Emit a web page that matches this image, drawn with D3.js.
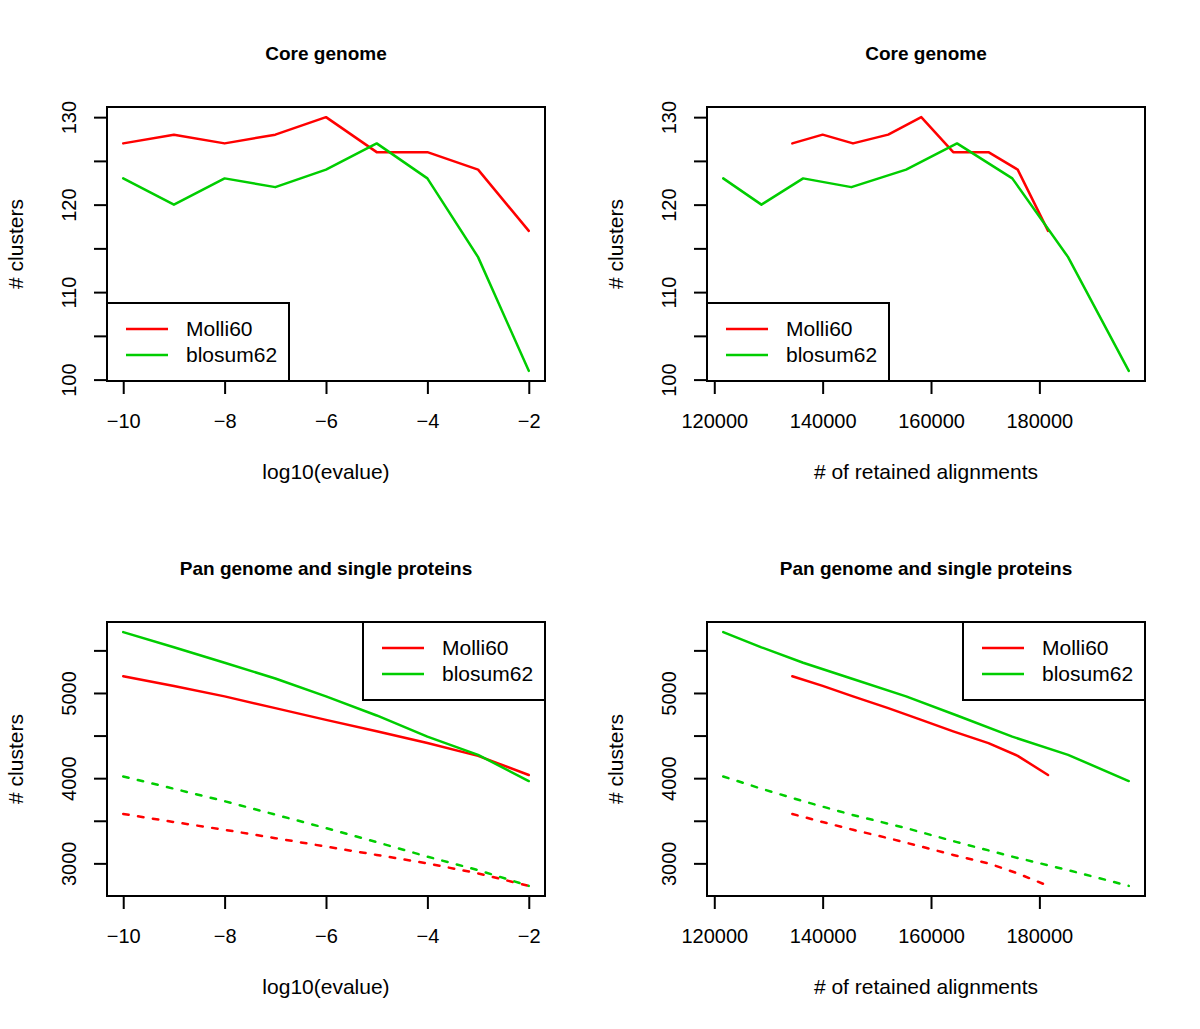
<!DOCTYPE html>
<html>
<head>
<meta charset="utf-8">
<script src="https://cdn.jsdelivr.net/npm/d3@7"></script>
<style>
  body { margin: 0; background: #fff; }
  text { font-family: "Liberation Sans", Arial, sans-serif; }
</style>
</head>
<body>
<svg id="chart" width="1200" height="1029"></svg>
<script>
// values
const evalueLog = [-10, -9, -8, -7, -6, -5, -4, -3, -2];
const alignMolli = [134400, 140000, 145600, 152100, 158200, 164100, 170600, 176000, 181600];
const alignBlosum = [121650, 128700, 136400, 145300, 155400, 164800, 175000, 185300, 196500];

const coreMolli = [127, 128, 127, 128, 130, 126, 126, 124, 117];
const coreBlosum = [123, 120, 123, 122, 124, 127, 123, 114, 101];

const panMolli = [5197, 5083, 4960, 4822, 4684, 4550, 4412, 4262, 4037];
const panBlosum = [5714, 5536, 5355, 5170, 4960, 4736, 4487, 4274, 3966];
const singleMolli = [3580, 3485, 3394, 3296, 3197, 3099, 3000, 2882, 2736];
const singleBlosum = [4020, 3876, 3730, 3572, 3414, 3249, 3079, 2921, 2736];

const legendNames = ["Molli60", "blosum62"];
const evalueTicks = [-10, -8, -6, -4, -2];
const alignTicks = [120000, 140000, 160000, 180000];
const coreTicks = [100, 105, 110, 115, 120, 125, 130];
const coreLabels = [100, 110, 120, 130];
const panTicks = [3000, 3500, 4000, 4500, 5000, 5500];
const panLabels = [3000, 4000, 5000];

const RED = "#ff0000", GREEN = "#00cd00";
const TICK_FONT = 20, FONT = 21;
const boxW = 438, boxH = 274;

const svg = d3.select("#chart");

function drawPanel(p) {
  const g = svg.append("g").attr("transform", `translate(${p.left},${p.top})`);

  // R style axis ranges: data extent plus 4% each side
  const extend = vals => {
    const [a, b] = d3.extent(vals);
    const pad = (b - a) * 0.04;
    return [a - pad, b + pad];
  };
  const x = d3.scaleLinear()
    .domain(extend(p.series.flatMap(s => s.x)))
    .range([0, boxW]);
  const y = d3.scaleLinear()
    .domain(extend(p.series.flatMap(s => s.y)))
    .range([boxH, 0]);

  const line = d3.line().x(d => x(d[0])).y(d => y(d[1]));

  p.series.forEach(s => {
    g.append("path")
      .datum(d3.zip(s.x, s.y))
      .attr("d", line)
      .attr("fill", "none")
      .attr("stroke", s.color)
      .attr("stroke-width", 2.5)
      .attr("stroke-linejoin", "round")
      .attr("stroke-linecap", "round")
      .attr("stroke-dasharray", s.dashed ? "5.5,9.5" : null);
  });

  g.append("rect")
    .attr("width", boxW).attr("height", boxH)
    .attr("fill", "none").attr("stroke", "#000").attr("stroke-width", 2);

  const xAxis = g.append("g")
    .attr("transform", `translate(0,${boxH})`)
    .call(d3.axisBottom(x).tickValues(p.xTicks).tickSize(13).tickPadding(20)
      .tickFormat(d3.format("d")));
  const yAxis = g.append("g")
    .call(d3.axisLeft(y).tickValues(p.yTicks).tickSize(13)
      .tickFormat(d => p.yLabels.includes(d) ? d : ""));

  [xAxis, yAxis].forEach(a => {
    a.select(".domain").remove();
    a.attr("font-size", TICK_FONT).attr("font-family", null);
    a.selectAll("line").attr("stroke-width", 2);
    a.selectAll("text").attr("fill", "#000");
  });
  yAxis.selectAll("text")
    .attr("transform", "rotate(-90)")
    .attr("x", 0).attr("y", -31).attr("dy", null)
    .attr("text-anchor", "middle");

  g.append("text")
    .attr("x", boxW / 2).attr("y", -47)
    .attr("text-anchor", "middle")
    .attr("font-weight", "bold").attr("font-size", 19)
    .text(p.title);

  g.append("text")
    .attr("x", boxW / 2).attr("y", boxH + 98)
    .attr("text-anchor", "middle").attr("font-size", FONT)
    .text(p.xTitle);

  g.append("text")
    .attr("transform", `translate(-84,${boxH / 2}) rotate(-90)`)
    .attr("text-anchor", "middle").attr("font-size", FONT)
    .text("# clusters");

  // legend box
  const lw = 182, lh = 78;
  const lg = g.append("g").attr("transform", p.legend === "bottomleft"
    ? `translate(0,${boxH - lh})`
    : `translate(${boxW - lw},0)`);
  lg.append("rect")
    .attr("width", lw).attr("height", lh)
    .attr("fill", "#fff").attr("stroke", "#000").attr("stroke-width", 2);
  legendNames.forEach((name, i) => {
    const ly = 26 + i * 26;
    lg.append("line")
      .attr("x1", 19).attr("x2", 61).attr("y1", ly).attr("y2", ly)
      .attr("stroke", i ? GREEN : RED).attr("stroke-width", 2.5);
    lg.append("text")
      .attr("x", 79).attr("y", ly).attr("dy", "0.35em")
      .attr("font-size", FONT)
      .text(name);
  });
}

const coreSeries = xs => [
  { x: xs[0], y: coreMolli, color: RED },
  { x: xs[1], y: coreBlosum, color: GREEN }
];
const panSeries = xs => [
  { x: xs[0], y: panMolli, color: RED },
  { x: xs[1], y: panBlosum, color: GREEN },
  { x: xs[0], y: singleMolli, color: RED, dashed: true },
  { x: xs[1], y: singleBlosum, color: GREEN, dashed: true }
];

drawPanel({
  left: 107, top: 107, title: "Core genome", xTitle: "log10(evalue)",
  series: coreSeries([evalueLog, evalueLog]),
  xTicks: evalueTicks, yTicks: coreTicks, yLabels: coreLabels, legend: "bottomleft"
});
drawPanel({
  left: 707, top: 107, title: "Core genome", xTitle: "# of retained alignments",
  series: coreSeries([alignMolli, alignBlosum]),
  xTicks: alignTicks, yTicks: coreTicks, yLabels: coreLabels, legend: "bottomleft"
});
drawPanel({
  left: 107, top: 622, title: "Pan genome and single proteins", xTitle: "log10(evalue)",
  series: panSeries([evalueLog, evalueLog]),
  xTicks: evalueTicks, yTicks: panTicks, yLabels: panLabels, legend: "topright"
});
drawPanel({
  left: 707, top: 622, title: "Pan genome and single proteins", xTitle: "# of retained alignments",
  series: panSeries([alignMolli, alignBlosum]),
  xTicks: alignTicks, yTicks: panTicks, yLabels: panLabels, legend: "topright"
});
</script>
</body>
</html>
